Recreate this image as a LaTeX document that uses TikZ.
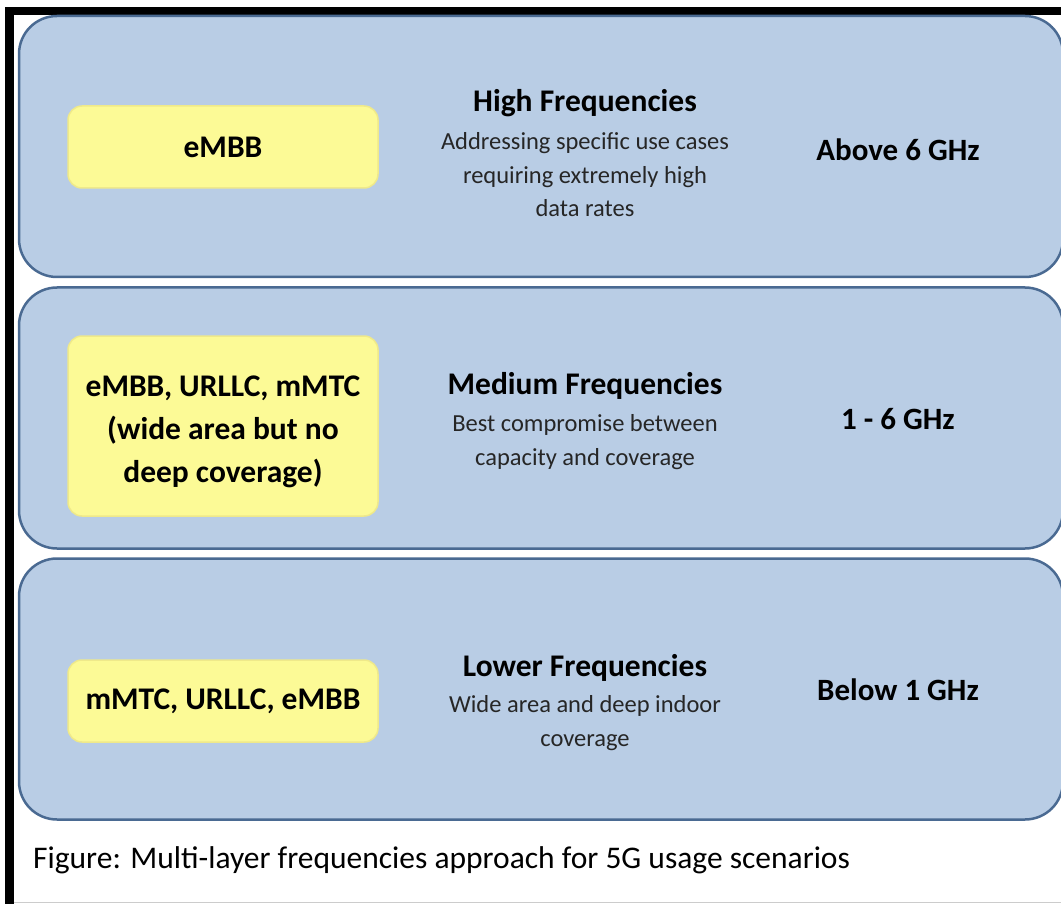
\documentclass[tikz,border=0pt]{standalone}
\usepackage{fontspec}
\setmainfont{Carlito}
\usetikzlibrary{positioning}

\definecolor{bandfill}{HTML}{B9CDE5}
\definecolor{bandline}{HTML}{4A6A92}
\definecolor{usefill}{HTML}{FCFA96}
\definecolor{useline}{HTML}{EFE98A}

\tikzstyle{band}=[draw=bandline, line width=2.5pt, fill=bandfill, rounded corners=38pt, minimum width=1044pt, minimum height=261pt, inner sep=0pt]
\tikzstyle{usecase}=[draw=useline, line width=1.5pt, fill=usefill, rounded corners=14pt, minimum width=310pt, inner sep=0pt, align=center, font=\fontsize{31.5}{43}\selectfont\bfseries]
\tikzstyle{ftitle}=[inner sep=0pt, font=\fontsize{31.5}{36}\selectfont\bfseries]
\tikzstyle{fdescr}=[inner sep=0pt, align=center, text=black!85, font=\fontsize{24.5}{33.5}\selectfont]
\tikzstyle{ghz}=[inner sep=0pt, font=\fontsize{31}{36}\selectfont\bfseries]

\begin{document}
\begin{tikzpicture}[x=1pt, y=-1pt]
    \useasboundingbox (0,0) rectangle (1061,904);
    \fill[white] (0,0) rectangle (1061,904);
    % frame
    \fill[black] (5,7) rectangle (14,904);
    \fill[black] (5,7) rectangle (1061,15);
    \draw[black!20, line width=1pt] (14,902.5) -- (1061,902.5);

    % three layers
    \node[band] (high) at (541,146.5) {};
    \node[band] (medium) at (541,418) {};
    \node[band] (lower) at (541,689) {};

    % use cases
    \node[usecase, minimum height=82pt] (uhigh) at (223,147) {eMBB};
    \node[usecase, minimum height=180pt] (umedium) at (223,426) {};
    \node[usecase, draw=none, fill=none, yshift=-6pt] (lmedium) at (umedium.center) {eMBB, URLLC, mMTC\\(wide area but no\\deep coverage)};
    \node[usecase, minimum height=82pt] (ulower) at (223,701) {mMTC, URLLC, eMBB};

    % frequency ranges
    \node[ftitle] (thigh) at (585,103) {High Frequencies};
    \node[fdescr] (dhigh) at (585,175) {Addressing specific use cases\\requiring extremely high\\data rates};
    \node[ghz] (rhigh) at (898,150) {Above 6 GHz};

    \node[ftitle] (tmedium) at (585,386) {Medium Frequencies};
    \node[fdescr] (dmedium) at (585,442) {Best compromise between\\capacity and coverage};
    \node[ghz] (rmedium) at (898,419) {1 - 6 GHz};

    \node[ftitle] (tlower) at (585,668) {Lower Frequencies};
    \node[fdescr] (dlower) at (585,723) {Wide area and deep indoor\\coverage};
    \node[ghz] (rlower) at (898,690) {Below 1 GHz};

    \node[anchor=west, inner sep=0pt, font=\fontsize{31.5}{36}\selectfont] (caption) at (33,860) {Figure: Multi-layer frequencies approach for 5G usage scenarios};
\end{tikzpicture}
\end{document}
